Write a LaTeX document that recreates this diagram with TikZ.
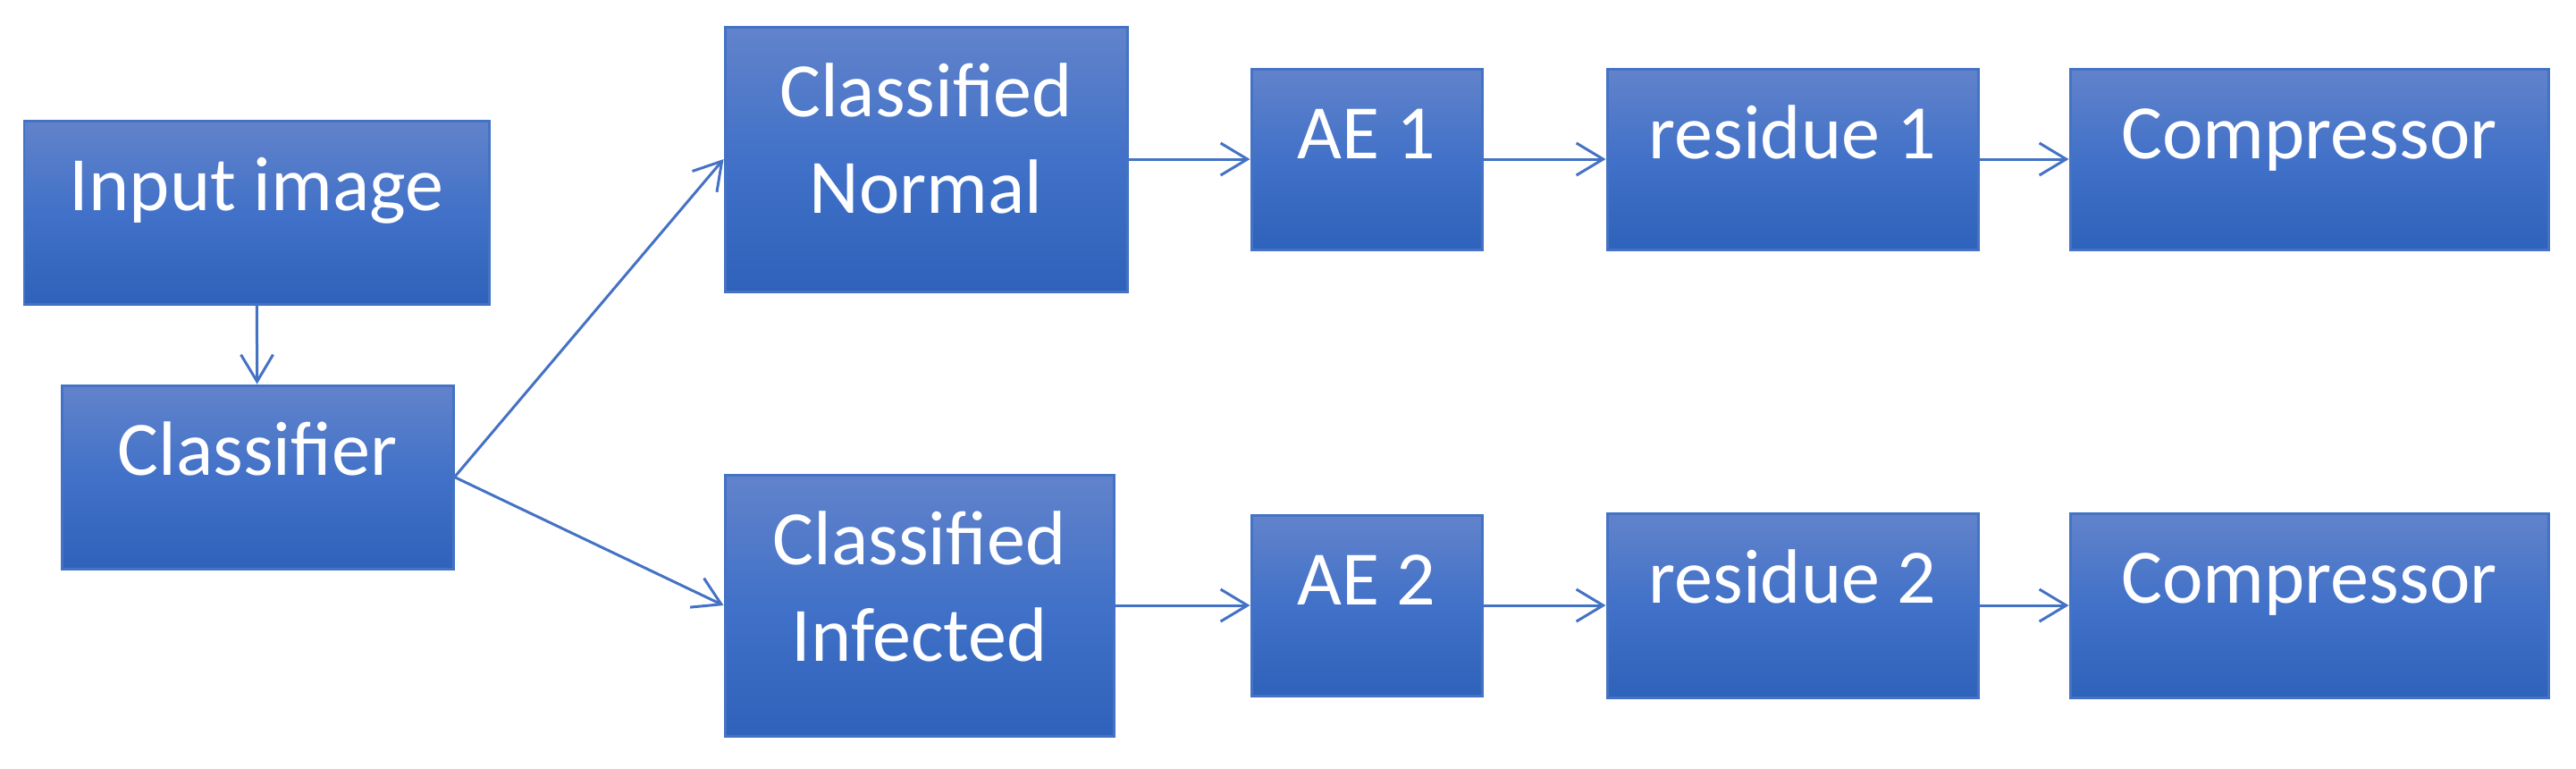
\documentclass[tikz,border=0pt]{standalone}
\usepackage{fontspec}
\setmainfont{Carlito}
\usepackage{tikz}
\usetikzlibrary{arrows.meta}
\usepackage{xcolor}
\definecolor{boxline}{RGB}{68,114,196}
\definecolor{boxtop}{RGB}{98,131,203}
\definecolor{boxmid}{RGB}{65,113,200}
\definecolor{boxbot}{RGB}{47,98,186}

\begin{document}
\begin{tikzpicture}[
  box/.style={rectangle, draw=boxline, line width=0.03cm, top color=boxtop, bottom color=boxbot, middle color=boxmid,
    text=white, inner sep=0pt, align=center, font=\fontsize{24.5}{30.7}\selectfont},
  flow/.style={draw=boxline, line width=0.03cm, -{Straight Barb[length=3mm,width=3.6mm]}}]
   \useasboundingbox (0,0) rectangle (28.82,-8.59);
   \node[box, minimum width=5.2cm, text height=1cm, text depth=1.05cm] (inp) at (2.87,-2.375) {Input image};
   \node[box, minimum width=4.38cm, text height=1cm, text depth=1.05cm] (cls) at (2.88,-5.335) {Classifier};
   \node[box, minimum width=4.5cm, text height=2.08cm, text depth=0.88cm] (cn) at (10.36,-1.78) {Classified\\Normal};
   \node[box, minimum width=4.35cm, text height=2.08cm, text depth=0.84cm] (ci) at (10.285,-6.77) {Classified\\Infected};
   \node[box, minimum width=2.58cm, text height=1cm, text depth=1.02cm] (ae1) at (15.29,-1.78) {AE 1};
   \node[box, minimum width=4.15cm, text height=1cm, text depth=1.02cm] (res1) at (20.055,-1.78) {residue 1};
   \node[box, minimum width=5.35cm, text height=1cm, text depth=1.02cm] (comp1) at (25.835,-1.78) {Compressor};
   \node[box, minimum width=2.58cm, text height=1cm, text depth=1.02cm] (ae2) at (15.29,-6.77) {AE 2};
   \node[box, minimum width=4.15cm, text height=1cm, text depth=1.06cm] (res2) at (20.055,-6.77) {residue 2};
   \node[box, minimum width=5.35cm, text height=1cm, text depth=1.06cm] (comp2) at (25.835,-6.77) {Compressor};
   \draw[flow] (inp) -- (cls);
   \draw[flow] (cls.east) -- (cn.west);
   \draw[flow] (cls.east) -- (ci.west);
   \draw[flow] (cn.east) -- (ae1.west);
   \draw[flow] (ae1) -- (res1);
   \draw[flow] (res1) -- (comp1);
   \draw[flow] (ci.east) -- (ae2.west);
   \draw[flow] (ae2) -- (res2);
   \draw[flow] (res2) -- (comp2);
\end{tikzpicture}
\end{document}
